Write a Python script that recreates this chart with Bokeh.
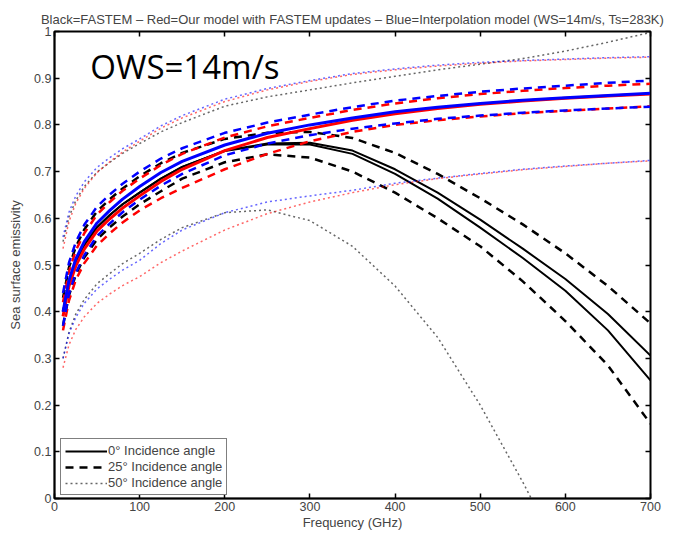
from bokeh.plotting import figure
from bokeh.models import Range1d, LinearAxis, Label, Legend, LegendItem, FixedTicker
from bokeh.embed import file_html
from bokeh.resources import INLINE

# ---------------- data ----------------
freq = [10, 17, 25, 35, 50, 65, 80, 100, 125, 150, 200, 250, 300, 350, 400, 450, 500, 550, 600, 650, 700]
freq_black_50h = [10, 17, 25, 35, 50, 65, 80, 100, 125, 150, 200, 250, 300, 350, 400, 450, 500, 550, 560]

# Black = FASTEM
black_0a = [0.40, 0.464, 0.507, 0.543, 0.581, 0.607, 0.63, 0.655, 0.685, 0.71, 0.745, 0.76, 0.762, 0.745, 0.705, 0.655, 0.597, 0.535, 0.47, 0.395, 0.306]
black_0b = [0.40, 0.464, 0.507, 0.543, 0.581, 0.607, 0.63, 0.655, 0.685, 0.71, 0.744, 0.758, 0.758, 0.738, 0.695, 0.642, 0.58, 0.515, 0.445, 0.36, 0.253]
black_25v = [0.43, 0.495, 0.539, 0.576, 0.615, 0.641, 0.664, 0.69, 0.718, 0.74, 0.77, 0.783, 0.785, 0.772, 0.74, 0.695, 0.643, 0.587, 0.525, 0.455, 0.375]
black_25h = [0.37, 0.435, 0.479, 0.516, 0.555, 0.581, 0.604, 0.63, 0.658, 0.685, 0.72, 0.737, 0.73, 0.70, 0.655, 0.60, 0.54, 0.465, 0.38, 0.285, 0.16]
black_50v = [0.55, 0.603, 0.638, 0.668, 0.699, 0.72, 0.739, 0.76, 0.785, 0.805, 0.84, 0.86, 0.875, 0.89, 0.904, 0.918, 0.93, 0.942, 0.958, 0.977, 0.998]
black_50h = [0.30, 0.356, 0.395, 0.426, 0.46, 0.482, 0.503, 0.525, 0.555, 0.58, 0.612, 0.618, 0.595, 0.54, 0.455, 0.345, 0.2, 0.035, 0.0]

# Red = our model with FASTEM updates
red_0 = [0.39, 0.455, 0.498, 0.534, 0.573, 0.599, 0.622, 0.648, 0.679, 0.705, 0.745, 0.773, 0.792, 0.81, 0.824, 0.835, 0.844, 0.851, 0.857, 0.862, 0.866]
red_25v = [0.42, 0.486, 0.531, 0.568, 0.608, 0.635, 0.659, 0.685, 0.714, 0.738, 0.773, 0.797, 0.815, 0.832, 0.846, 0.857, 0.866, 0.873, 0.879, 0.884, 0.888]
red_25h = [0.36, 0.424, 0.468, 0.504, 0.542, 0.568, 0.591, 0.617, 0.643, 0.665, 0.705, 0.738, 0.765, 0.785, 0.80, 0.81, 0.818, 0.825, 0.83, 0.835, 0.84]
red_50v = [0.535, 0.593, 0.632, 0.664, 0.698, 0.721, 0.742, 0.765, 0.793, 0.815, 0.85, 0.875, 0.893, 0.908, 0.918, 0.926, 0.932, 0.937, 0.94, 0.943, 0.945]
red_50h = [0.28, 0.329, 0.362, 0.389, 0.418, 0.438, 0.456, 0.475, 0.505, 0.53, 0.575, 0.61, 0.635, 0.655, 0.672, 0.685, 0.695, 0.704, 0.711, 0.718, 0.723]

# Blue = interpolation model
blue_0 = [0.40, 0.467, 0.513, 0.55, 0.59, 0.617, 0.641, 0.668, 0.698, 0.722, 0.757, 0.782, 0.80, 0.815, 0.828, 0.838, 0.846, 0.853, 0.858, 0.863, 0.868]
blue_25v = [0.44, 0.505, 0.549, 0.586, 0.625, 0.651, 0.674, 0.70, 0.728, 0.75, 0.783, 0.805, 0.822, 0.838, 0.852, 0.862, 0.871, 0.878, 0.884, 0.89, 0.895]
blue_25h = [0.37, 0.438, 0.483, 0.521, 0.562, 0.589, 0.613, 0.64, 0.67, 0.695, 0.735, 0.76, 0.778, 0.792, 0.803, 0.813, 0.82, 0.826, 0.831, 0.835, 0.839]
blue_50v = [0.56, 0.613, 0.648, 0.678, 0.709, 0.73, 0.749, 0.77, 0.798, 0.82, 0.855, 0.878, 0.895, 0.91, 0.92, 0.928, 0.934, 0.938, 0.941, 0.944, 0.946]
blue_50h = [0.30, 0.353, 0.388, 0.418, 0.449, 0.47, 0.489, 0.51, 0.546, 0.575, 0.612, 0.635, 0.648, 0.66, 0.675, 0.686, 0.696, 0.705, 0.712, 0.718, 0.724]

x_ticks = [0, 100, 200, 300, 400, 500, 600, 700]
y_ticks = [0, 0.1, 0.2, 0.3, 0.4, 0.5, 0.6, 0.7, 0.8, 0.9, 1]
y_tick_labels = {0: "0", 1: "1"}

title_text = ("Black=FASTEM \u2013 Red=Our model with FASTEM updates \u2013 "
              "Blue=Interpolation model (WS=14m/s, Ts=283K)")
legend_labels = ["0\u00b0 Incidence angle", "25\u00b0 Incidence angle", "50\u00b0 Incidence angle"]

# ---------------- figure ----------------
FONT = "Liberation Sans"
p = figure(width=673, height=535, x_range=Range1d(0, 700), y_range=Range1d(0, 1),
           output_backend="svg", toolbar_location=None,
           min_border_left=54, min_border_right=23, min_border_top=31, min_border_bottom=37)
p.xgrid.visible = False
p.ygrid.visible = False
p.outline_line_color = "black"
p.outline_line_width = 2

p.title.text = title_text
p.title.align = "center"
p.title.vertical_align = "top"
p.title.text_font = FONT
p.title.text_font_size = "13px"
p.title.text_font_style = "normal"
p.title.standoff = 6

for ax in (p.xaxis[0], p.yaxis[0]):
    ax.major_tick_in = 5
    ax.major_tick_out = 0
    ax.minor_tick_in = 0
    ax.minor_tick_out = 0
    ax.axis_line_color = "black"
    ax.axis_line_width = 1.5
    ax.major_tick_line_width = 1.5
    ax.major_label_text_font = FONT
    ax.major_label_text_font_size = "12.5px"
    ax.major_label_standoff = 3
    ax.axis_label_text_font = FONT
    ax.axis_label_text_font_size = "13px"
    ax.axis_label_text_font_style = "normal"

p.xaxis[0].ticker = FixedTicker(ticks=x_ticks)
p.yaxis[0].ticker = FixedTicker(ticks=y_ticks)
p.yaxis[0].major_label_overrides = y_tick_labels
p.xaxis[0].axis_label = "Frequency (GHz)"
p.yaxis[0].axis_label = "Sea surface emissivity"
p.xaxis[0].axis_label_standoff = 1
p.yaxis[0].axis_label_standoff = 8

# box ticks on top and right
top_ax = LinearAxis(ticker=FixedTicker(ticks=x_ticks), major_tick_in=5, major_tick_out=0,
                    minor_tick_in=0, minor_tick_out=0, major_label_text_color=None,
                    axis_line_color="black", major_tick_line_width=1.5)
right_ax = LinearAxis(ticker=FixedTicker(ticks=y_ticks), major_tick_in=5, major_tick_out=0,
                      minor_tick_in=0, minor_tick_out=0, major_label_text_color=None,
                      axis_line_color="black", major_tick_line_width=1.5)
p.add_layout(top_ax, "above")
p.add_layout(right_ax, "right")

DASH = "8 6"
DOT = "2 3"

# black (FASTEM)
rb0 = p.line(freq, black_0a, color="black", line_width=2)
p.line(freq, black_0b, color="black", line_width=2)
rb25 = p.line(freq, black_25v, color="black", line_width=2.5, line_dash=DASH)
p.line(freq, black_25h, color="black", line_width=2.5, line_dash=DASH)
rb50 = p.line(freq, black_50v, color="black", line_width=1.5, line_dash=DOT, line_alpha=0.6)
p.line(freq_black_50h, black_50h, color="black", line_width=1.5, line_dash=DOT, line_alpha=0.6)

# red
p.line(freq, red_0, color="red", line_width=3)
p.line(freq, red_25v, color="red", line_width=2.5, line_dash=DASH)
p.line(freq, red_25h, color="red", line_width=2.5, line_dash=DASH)
p.line(freq, red_50v, color="red", line_width=1.5, line_dash=DOT, line_alpha=0.6)
p.line(freq, red_50h, color="red", line_width=1.5, line_dash=DOT, line_alpha=0.6)

# blue
p.line(freq, blue_0, color="blue", line_width=3)
p.line(freq, blue_25v, color="blue", line_width=2.5, line_dash=DASH)
p.line(freq, blue_25h, color="blue", line_width=2.5, line_dash=DASH)
p.line(freq, blue_50v, color="blue", line_width=1.5, line_dash=DOT, line_alpha=0.6)
p.line(freq, blue_50h, color="blue", line_width=1.5, line_dash=DOT, line_alpha=0.6)

legend = Legend(items=[LegendItem(label=legend_labels[0], renderers=[rb0]),
                       LegendItem(label=legend_labels[1], renderers=[rb25]),
                       LegendItem(label=legend_labels[2], renderers=[rb50])],
                location=(6, 3), margin=0, padding=4, spacing=1,
                border_line_color="black", border_line_width=1.5,
                label_text_font=FONT, label_text_font_size="13px",
                glyph_width=42, glyph_height=14, label_height=15, label_standoff=1,
                background_fill_color="white", background_fill_alpha=1)
p.add_layout(legend)

p.add_layout(Label(x=42, y=0.925, text="OWS=14m/s", text_font="Open Sans",
                   text_font_size="33px", text_color="black", text_baseline="alphabetic"))

open("out.html", "w").write(file_html(p, INLINE))
